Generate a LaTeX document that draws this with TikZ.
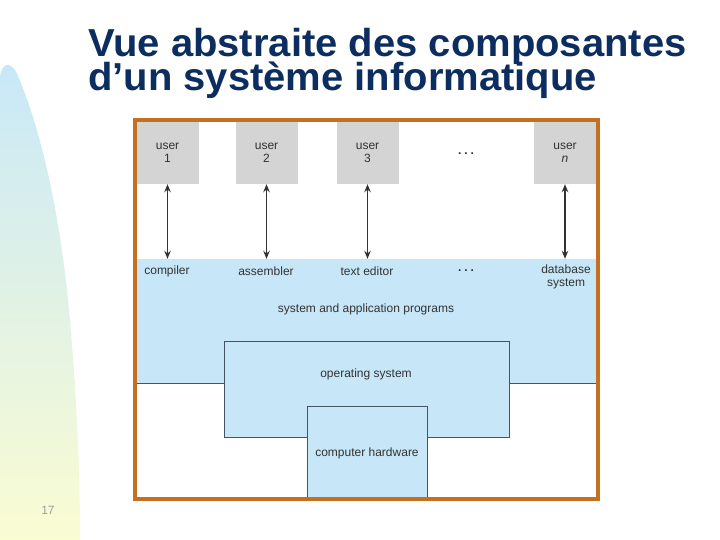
\documentclass[tikz,border=0pt]{standalone}
\usepackage{fontspec}
\setmainfont{Liberation Sans}
\usetikzlibrary{positioning,arrows.meta}
\definecolor{framebrown}{RGB}{196,112,30}
\definecolor{boxgray}{RGB}{212,212,212}
\definecolor{layerblue}{RGB}{199,231,248}
\definecolor{edgeslate}{RGB}{70,85,100}
\definecolor{titlenavy}{RGB}{12,45,95}
\definecolor{labelgray}{RGB}{50,50,50}
\definecolor{sidetop}{RGB}{200,232,248}
\definecolor{sidemid}{RGB}{222,242,236}
\definecolor{sidebot}{RGB}{250,252,210}
\tikzset{
  userbox/.style={fill=boxgray,minimum width=62pt,minimum height=62pt,
                  inner sep=0pt,align=center,font=\fontsize{12}{13}\selectfont,
                  text=labelgray},
  layer/.style={fill=layerblue,inner sep=0pt},
  layerlbl/.style={font=\fontsize{12}{13}\selectfont,text=labelgray,
                   align=center,inner sep=1pt},
  useredge/.style={{Stealth[length=8pt,width=6.5pt]}-{Stealth[length=8pt,width=6.5pt]},
                   line width=1.6pt,draw=labelgray,fill=labelgray},
  titleline/.style={anchor=base west,inner sep=0pt,text=titlenavy,
                    font=\fontsize{39}{39}\selectfont\bfseries},
}
\newcommand{\dotsrow}{\textbf{.\hspace{3pt}.\hspace{3pt}.}}

\begin{document}
\begin{tikzpicture}[x=1pt,y=-1pt]
  \useasboundingbox (0,0) rectangle (720,540);
  % left decoration
  \shade[top color=sidetop,middle color=sidemid,bottom color=sidebot]
    (0,540) -- (0,78) .. controls (1,64) and (10,58) .. (18,76)
    .. controls (45,140) and (62,230) .. (70,320)
    .. controls (76,390) and (80,460) .. (80,540) -- cycle;
  \node[font=\fontsize{12}{12}\selectfont,text=black!38] (pagenum) at (48,510) {17};

  % title
  \node[titleline] (title1) at (88,57) {\scalebox{1.025}[1]{Vue abstraite des composantes}};
  \node[titleline] (title2) at (88,91) {\scalebox{1.025}[1]{d’un système informatique}};

  % layers
  \node[layer,minimum width=459pt,minimum height=124pt] (apps) at (366.5,321) {};
  \draw[edgeslate] (apps.south west) -- (apps.south east);
  \node[layer,draw=edgeslate,minimum width=285pt,minimum height=96pt] (os) at (366.5,389) {};
  \node[layer,minimum width=120pt,minimum height=93pt] (hw) at (367,452.5) {};
  \draw[edgeslate] (hw.south west) -- (hw.north west) -- (hw.north east) -- (hw.south east);

  \node[layerlbl] (compiler)  at (167,271) {compiler};
  \node[layerlbl] (assembler) at (266,271) {assembler};
  \node[layerlbl] (texted)    at (367,271) {text editor};
  \node[layerlbl] (appdots)   at (466,271) {\dotsrow};
  \node[layerlbl] (database)  at (566,277) {database\\system};
  \node[layerlbl] (appslbl)   at (366,309) {system and application programs};
  \node[layerlbl] (oslbl)     at (366,374) {operating system};
  \node[layerlbl] (hwlbl)     at (367,453) {computer hardware};

  % users
  \node[userbox] (u1) at (167.5,153) {user\\1};
  \node[userbox] (u2) at (266.5,153) {user\\2};
  \node[userbox] (u3) at (367.5,153) {user\\3};
  \node[layerlbl] (userdots) at (466,154) {\dotsrow};
  \node[userbox] (un) at (565,153) {user\\\textit{n}};

  \foreach \u in {u1,u2,u3,un}
    \draw[useredge] (\u.south) -- (\u.south |- apps.north);

  % frame
  \node[draw=framebrown,line width=4pt,minimum width=463pt,minimum height=379pt,
        inner sep=0pt] (frame) at (366.5,309.5) {};
\end{tikzpicture}
\end{document}
